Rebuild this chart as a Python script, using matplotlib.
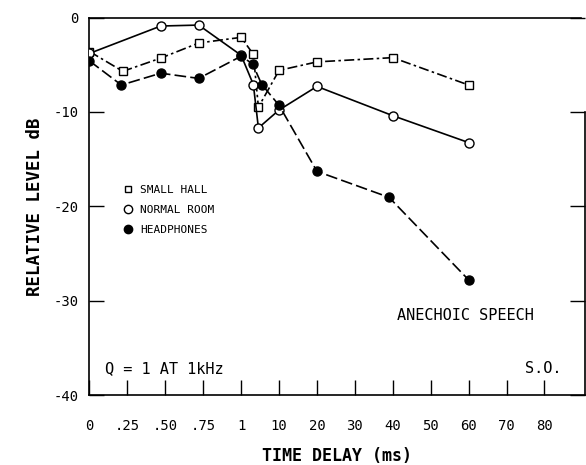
import numpy as np
import matplotlib
matplotlib.use("Agg")
import matplotlib.pyplot as plt
from matplotlib.lines import Line2D

# delay (ms) -> position on the broken axis
tick_ms = [0, 0.25, 0.5, 0.75, 1, 10, 20, 30, 40, 50, 60, 70, 80, 90, 100]
tick_labels = ["0", ".25", ".50", ".75", "1", "10", "20", "30", "40", "50", "60", "70", "80"]
tick_pos = np.arange(len(tick_ms))

# data
hall_ms = [0, 0.22, 0.47, 0.72, 1, 3.9, 5.1, 10, 20, 40, 60]
hall_db = [-3.6, -5.7, -4.3, -2.7, -2.1, -3.9, -9.5, -5.6, -4.7, -4.25, -7.15]

room_ms = [0, 0.47, 0.72, 1, 3.9, 5.1, 10, 20, 40, 60]
room_db = [-3.8, -0.9, -0.8, -4.0, -7.1, -11.7, -9.8, -7.3, -10.4, -13.25]

phones_ms = [0, 0.21, 0.47, 0.72, 1, 3.7, 5.9, 10, 20, 39, 60]
phones_db = [-4.6, -7.15, -5.9, -6.45, -4.1, -4.9, -7.1, -9.3, -16.3, -19.05, -27.8]


def forward(x):
    return np.interp(x, tick_ms, tick_pos)


def inverse(p):
    return np.interp(p, tick_pos, tick_ms)


mono = "DejaVu Sans Mono"

fig = plt.figure(figsize=(5.86, 4.65), dpi=100)
ax = fig.add_axes([0.1527, 0.1505, 0.8456, 0.8118])
ax.set_xscale("function", functions=(forward, inverse))

ax.plot(hall_ms, hall_db, color="black", lw=1.2, marker="s", ms=5.5,
        mfc="white", mec="black", mew=1.0, dashes=(6, 2, 1.5, 2), zorder=3)
ax.plot(room_ms, room_db, color="black", lw=1.2, marker="o", ms=6.5,
        mfc="white", mec="black", mew=1.0, zorder=3)
ax.plot(phones_ms, phones_db, color="black", lw=1.2, marker="o", ms=6.5,
        mfc="black", mec="black", dashes=(7, 2.5), zorder=4)

ax.set_xlim(0, inverse(13.07))
ax.set_ylim(-40, 0)
ax.set_xticks(tick_ms[:13])
ax.set_xticklabels(tick_labels)
ax.set_yticks([0, -10, -20, -30, -40])
ax.set_yticklabels(["0", "-10", "-20", "-30", "-40"])
ax.minorticks_off()

ax.tick_params(axis="x", direction="in", length=11, width=1.0, pad=17, labelsize=10)
ax.tick_params(axis="y", direction="in", length=11, width=1.0, pad=8, labelsize=10,
               right=True)
for lab in ax.get_xticklabels() + ax.get_yticklabels():
    lab.set_fontfamily(mono)

for s in ax.spines.values():
    s.set_linewidth(1.2)
ax.spines["right"].set_bounds(-40, -10)
ax.spines["top"].set_bounds(0, inverse(12.96))

ax.set_xlabel("TIME DELAY (ms)", fontfamily=mono, fontweight="bold", fontsize=12,
              labelpad=10)
ax.set_ylabel("RELATIVE LEVEL dB", fontfamily=mono, fontweight="bold", fontsize=12.5,
              labelpad=7)

handles = [
    Line2D([], [], ls="none", marker="s", ms=5, mfc="white", mec="black"),
    Line2D([], [], ls="none", marker="o", ms=6, mfc="white", mec="black"),
    Line2D([], [], ls="none", marker="o", ms=6, mfc="black", mec="black"),
]
ax.legend(handles, ["SMALL HALL", "NORMAL ROOM", "HEADPHONES"], loc="upper left",
          bbox_to_anchor=(0.058, 0.572), frameon=False, handlelength=0.8,
          handletextpad=0.7, labelspacing=0.9, borderpad=0,
          prop={"family": mono, "size": 8})

ax.text(0.62, 0.21, "ANECHOIC SPEECH", transform=ax.transAxes, fontfamily=mono,
        fontsize=11, va="center", ha="left")
ax.text(0.032, 0.069, "Q = 1 AT 1kHz", transform=ax.transAxes, fontfamily=mono,
        fontsize=11, va="center", ha="left")
ax.text(0.878, 0.069, "S.O.", transform=ax.transAxes, fontfamily=mono,
        fontsize=11, va="center", ha="left")

fig.savefig("out.png", dpi=100)
